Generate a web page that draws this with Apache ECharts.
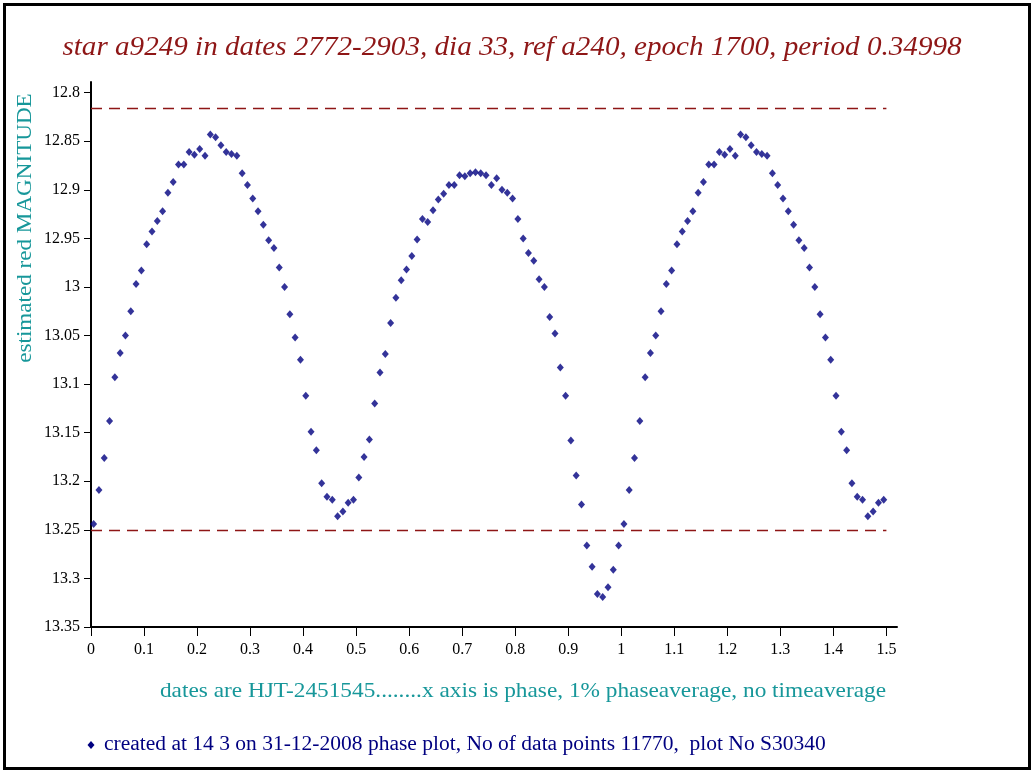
<!DOCTYPE html>
<html>
<head>
<meta charset="utf-8">
<script src="https://cdn.jsdelivr.net/npm/echarts@6/dist/echarts.min.js"></script>
<style>
  html, body { margin: 0; padding: 0; background: #ffffff; }
  #chart { width: 1032px; height: 771px; }
</style>
</head>
<body>
<div id="chart"></div>
<script>
// Phase bins (1% phase average), bin centres for one full cycle
const phaseBins = [
  0.005, 0.015, 0.025, 0.035, 0.045, 0.055, 0.065, 0.075, 0.085, 0.095,
  0.105, 0.115, 0.125, 0.135, 0.145, 0.155, 0.165, 0.175, 0.185, 0.195,
  0.205, 0.215, 0.225, 0.235, 0.245, 0.255, 0.265, 0.275, 0.285, 0.295,
  0.305, 0.315, 0.325, 0.335, 0.345, 0.355, 0.365, 0.375, 0.385, 0.395,
  0.405, 0.415, 0.425, 0.435, 0.445, 0.455, 0.465, 0.475, 0.485, 0.495,
  0.505, 0.515, 0.525, 0.535, 0.545, 0.555, 0.565, 0.575, 0.585, 0.595,
  0.605, 0.615, 0.625, 0.635, 0.645, 0.655, 0.665, 0.675, 0.685, 0.695,
  0.705, 0.715, 0.725, 0.735, 0.745, 0.755, 0.765, 0.775, 0.785, 0.795,
  0.805, 0.815, 0.825, 0.835, 0.845, 0.855, 0.865, 0.875, 0.885, 0.895,
  0.905, 0.915, 0.925, 0.935, 0.945, 0.955, 0.965, 0.975, 0.985, 0.995
];

// Estimated red magnitude per phase bin
const magnitude = [
  13.244, 13.209, 13.176, 13.138, 13.093, 13.068, 13.050, 13.025, 12.997, 12.983,
  12.956, 12.943, 12.932, 12.922, 12.903, 12.892, 12.874, 12.874, 12.861, 12.864,
  12.858, 12.865, 12.843, 12.846, 12.854, 12.861, 12.863, 12.865, 12.883, 12.895,
  12.909, 12.922, 12.936, 12.952, 12.960, 12.980, 13.000, 13.028, 13.052, 13.075,
  13.112, 13.149, 13.168, 13.202, 13.216, 13.219, 13.236, 13.231, 13.222, 13.219,
  13.196, 13.175, 13.157, 13.120, 13.088, 13.069, 13.037, 13.011, 12.993, 12.982,
  12.968, 12.951, 12.930, 12.933, 12.921, 12.910, 12.904, 12.895, 12.895, 12.885,
  12.886, 12.883, 12.882, 12.883, 12.885, 12.895, 12.888, 12.900, 12.903, 12.909,
  12.930, 12.950, 12.965, 12.973, 12.992, 13.000, 13.031, 13.048, 13.083, 13.112,
  13.158, 13.194, 13.224, 13.266, 13.288, 13.316, 13.319, 13.309, 13.291, 13.266
];

// Reference levels (dashed lines)
const upperLevel = 12.816;
const lowerLevel = 13.25;

// Tick labels
const xTicks = [0, 0.1, 0.2, 0.3, 0.4, 0.5, 0.6, 0.7, 0.8, 0.9, 1, 1.1, 1.2, 1.3, 1.4, 1.5];
const yTicks = [12.8, 12.85, 12.9, 12.95, 13, 13.05, 13.1, 13.15, 13.2, 13.25, 13.3, 13.35];

const titleText = 'star a9249 in dates 2772-2903, dia 33, ref a240, epoch 1700, period 0.34998';
const yName = 'estimated red MAGNITUDE';
const xName = 'dates are HJT-2451545........x axis is phase, 1% phaseaverage, no timeaverage';
const footerText = 'created at 14 3 on 31-12-2008 phase plot, No of data points 11770,  plot No S30340';

// One cycle plus the first half of the next, as in a folded phase plot
const points = [];
phaseBins.forEach((p, i) => points.push([p, magnitude[i]]));
phaseBins.forEach((p, i) => { if (p < 0.5) points.push([p + 1, magnitude[i]]); });

const serif = "'Liberation Serif', 'DejaVu Serif', serif";
const teal = '#17979a';
const navy = '#000080';
const darkRed = '#8e1616';

const chart = echarts.init(document.getElementById('chart'), null, { renderer: 'canvas' });

chart.setOption({
  backgroundColor: '#ffffff',
  animation: false,
  grid: { left: 91, right: 135, top: 82, bottom: 144, containLabel: false },
  xAxis: {
    type: 'value',
    min: 0,
    max: 1.52,
    splitLine: { show: false },
    axisLine: { show: true, onZero: false, lineStyle: { color: '#000', width: 2 } },
    axisTick: { show: true, length: 9, customValues: xTicks, lineStyle: { color: '#000', width: 1 } },
    axisLabel: {
      customValues: xTicks,
      margin: 15,
      color: '#000',
      fontFamily: serif,
      fontSize: 16,
      formatter: v => String(+v.toFixed(2))
    }
  },
  yAxis: {
    type: 'value',
    inverse: true,
    min: 12.789,
    max: 13.35,
    splitLine: { show: false },
    axisLine: { show: true, onZero: false, lineStyle: { color: '#000', width: 2 } },
    axisTick: { show: true, length: 7, customValues: yTicks, lineStyle: { color: '#000', width: 1 } },
    axisLabel: {
      customValues: yTicks,
      margin: 11,
      color: '#000',
      fontFamily: serif,
      fontSize: 16,
      formatter: v => String(+v.toFixed(2))
    }
  },
  series: [
    {
      type: 'scatter',
      data: points,
      symbol: 'diamond',
      symbolSize: [7, 8],
      itemStyle: { color: navy },
      markLine: {
        silent: true,
        symbol: ['none', 'none'],
        label: { show: false },
        lineStyle: { color: darkRed, type: [11, 7], width: 1.3 },
        data: [
          [{ coord: [0, upperLevel] }, { coord: [1.5, upperLevel] }],
          [{ coord: [0, lowerLevel] }, { coord: [1.5, lowerLevel] }]
        ]
      }
    }
  ],
  graphic: [
    {
      type: 'rect',
      shape: { x: 4.5, y: 4.5, width: 1025, height: 764 },
      style: { fill: 'none', stroke: '#000', lineWidth: 3 }
    },
    {
      type: 'text',
      x: 512, y: 48,
      style: {
        text: titleText,
        fill: darkRed,
        font: "italic 28px " + serif,
        textAlign: 'center',
        textVerticalAlign: 'middle'
      },
      scaleX: 1.04
    },
    {
      type: 'text',
      x: 25, y: 228,
      rotation: Math.PI / 2,
      style: {
        text: yName,
        fill: teal,
        font: "22px " + serif,
        textAlign: 'center',
        textVerticalAlign: 'middle'
      },
      scaleX: 1.05
    },
    {
      type: 'text',
      x: 886, y: 691,
      style: {
        text: xName,
        fill: teal,
        font: "21px " + serif,
        textAlign: 'right',
        textVerticalAlign: 'middle'
      },
      scaleX: 1.11
    },
    {
      type: 'polygon',
      shape: { points: [[91, 741], [94.5, 745], [91, 749], [87.5, 745]] },
      style: { fill: navy }
    },
    {
      type: 'text',
      x: 104, y: 745,
      style: {
        text: footerText,
        fill: navy,
        font: "20px " + serif,
        textAlign: 'left',
        textVerticalAlign: 'middle'
      },
      scaleX: 1.075
    }
  ]
});
</script>
</body>
</html>
